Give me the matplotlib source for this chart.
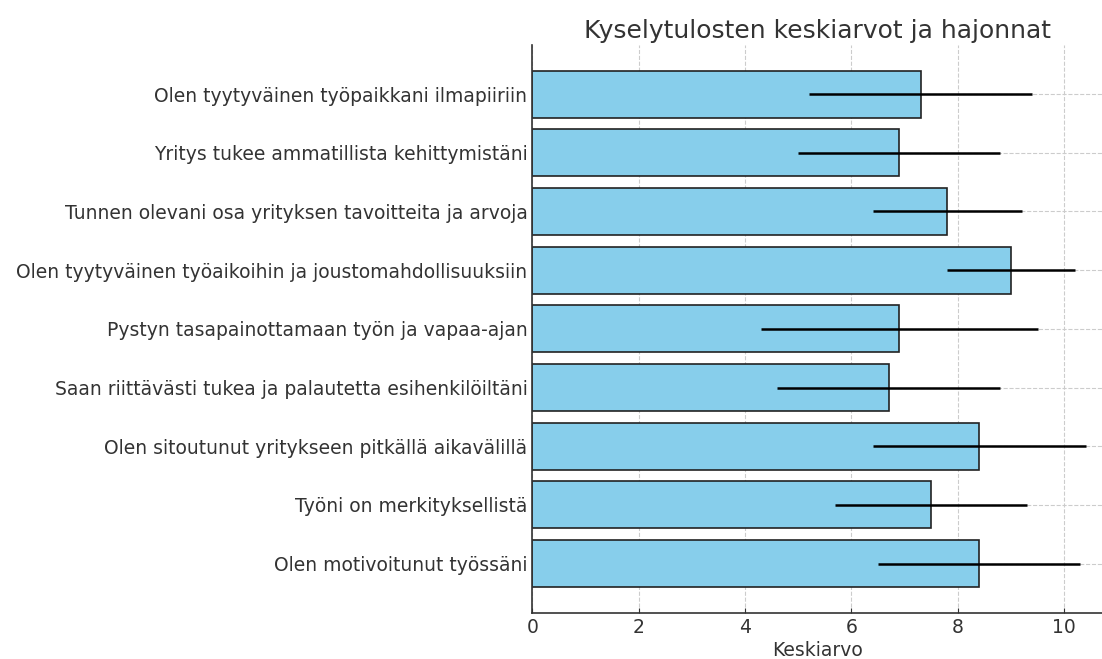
import matplotlib.pyplot as plt

# Data, listed from bottom bar to top bar
kysymykset = [
    "Olen motivoitunut työssäni",
    "Työni on merkityksellistä",
    "Olen sitoutunut yritykseen pitkällä aikavälillä",
    "Saan riittävästi tukea ja palautetta esihenkilöiltäni",
    "Pystyn tasapainottamaan työn ja vapaa-ajan",
    "Olen tyytyväinen työaikoihin ja joustomahdollisuuksiin",
    "Tunnen olevani osa yrityksen tavoitteita ja arvoja",
    "Yritys tukee ammatillista kehittymistäni",
    "Olen tyytyväinen työpaikkani ilmapiiriin",
]
keskiarvot = [8.4, 7.5, 8.4, 6.7, 6.9, 9.0, 7.8, 6.9, 7.3]
hajonnat = [1.9, 1.8, 2.0, 2.1, 2.6, 1.2, 1.4, 1.9, 2.1]

plt.rcParams['font.family'] = 'DejaVu Sans'
plt.rcParams['text.color'] = '#333333'
plt.rcParams['axes.labelcolor'] = '#333333'
plt.rcParams['xtick.color'] = '#333333'
plt.rcParams['ytick.color'] = '#333333'

fig, ax = plt.subplots(figsize=(11.02, 6.59), dpi=100)
fig.subplots_adjust(left=0.483, right=1.0, top=0.932, bottom=0.070)

ax.barh(kysymykset, keskiarvot, xerr=hajonnat, height=0.8,
        color='skyblue', edgecolor='#222222', linewidth=1.2,
        error_kw=dict(ecolor='black', elinewidth=1.8, capsize=0))

ax.set_xlim(0, 10.71)
ax.set_xlabel('Keskiarvo', fontsize=13.5, labelpad=3)
ax.set_title('Kyselytulosten keskiarvot ja hajonnat', fontsize=18, pad=5)
ax.tick_params(axis='both', direction='in', labelsize=13.5)
ax.grid(True, linestyle='--', color='#cccccc', linewidth=0.8)
ax.set_axisbelow(True)
for s in ['top', 'right']:
    ax.spines[s].set_visible(False)
for s in ['left', 'bottom']:
    ax.spines[s].set_color('#333333')
    ax.spines[s].set_linewidth(1.2)

plt.savefig('out.png', dpi=100)
